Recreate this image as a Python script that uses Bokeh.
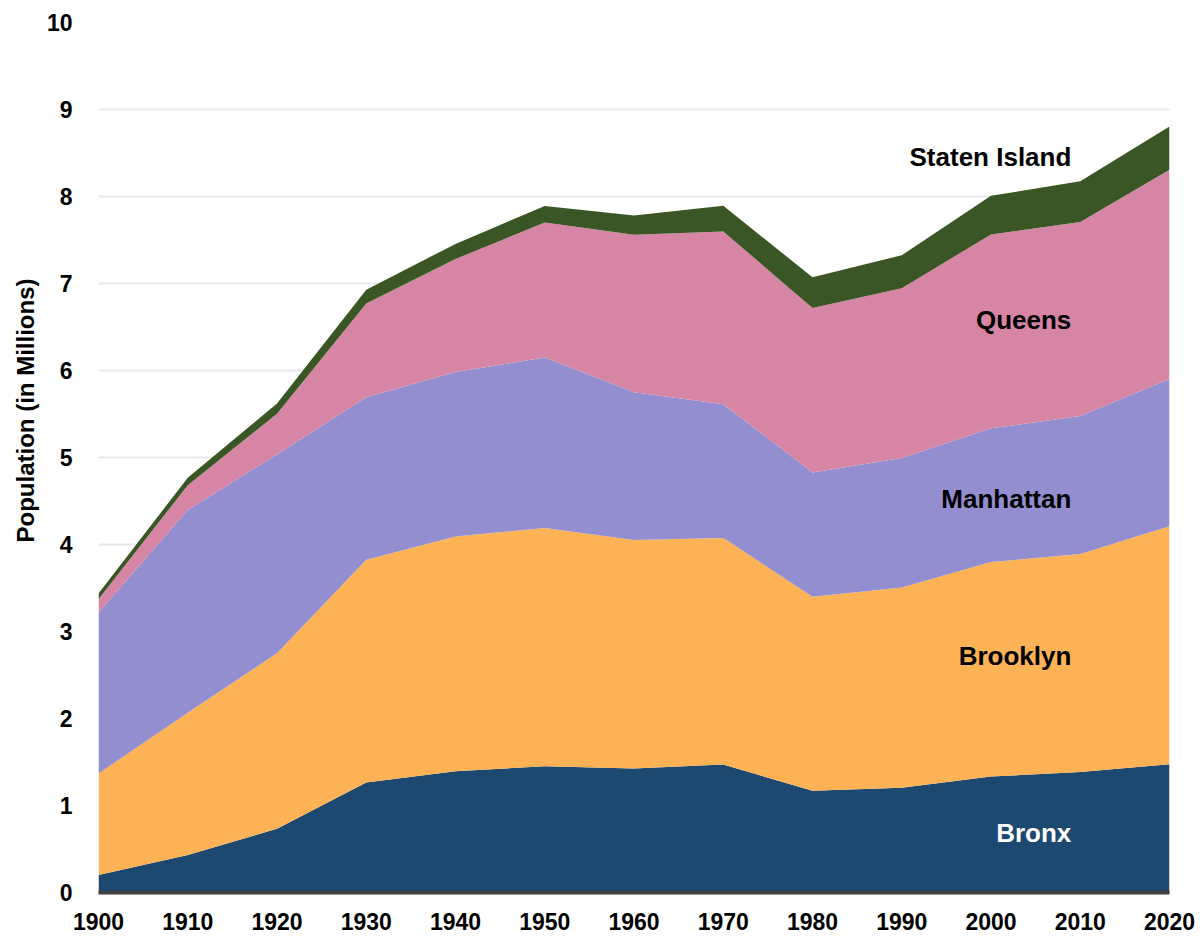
from bokeh.plotting import figure
from bokeh.models import ColumnDataSource, Label, FixedTicker, Title
from bokeh.embed import file_html
from bokeh.resources import INLINE

years = [1900, 1910, 1920, 1930, 1940, 1950, 1960, 1970, 1980, 1990, 2000, 2010, 2020]
bronx = [0.201, 0.431, 0.732, 1.265, 1.395, 1.451, 1.425, 1.472, 1.169, 1.204, 1.333, 1.385, 1.473]
brooklyn = [1.167, 1.634, 2.018, 2.560, 2.698, 2.738, 2.627, 2.602, 2.231, 2.301, 2.465, 2.505, 2.736]
manhattan = [1.850, 2.332, 2.284, 1.867, 1.890, 1.960, 1.698, 1.539, 1.428, 1.488, 1.537, 1.586, 1.694]
queens = [0.153, 0.284, 0.469, 1.079, 1.298, 1.551, 1.810, 1.986, 1.891, 1.952, 2.229, 2.231, 2.405]
staten_island = [0.067, 0.086, 0.117, 0.158, 0.174, 0.192, 0.222, 0.295, 0.352, 0.379, 0.444, 0.469, 0.496]

series_names = ["Bronx", "Brooklyn", "Manhattan", "Queens", "Staten Island"]
colors = ["#1d4870", "#fcb255", "#938ed0", "#d686a4", "#3a5624"]

source = ColumnDataSource(dict(
    year=years, Bronx=bronx, Brooklyn=brooklyn, Manhattan=manhattan,
    Queens=queens, **{"Staten Island": staten_island}))

FONT = "Liberation Sans"

p = figure(width=1200, height=940, output_backend="svg", toolbar_location=None,
           x_range=(1900, 2020), y_range=(0, 10),
           min_border_left=98, min_border_right=31, min_border_top=22, min_border_bottom=48)

p.varea_stack(stackers=series_names, x="year", color=colors, source=source)

p.outline_line_color = None
p.background_fill_color = "white"
p.border_fill_color = "white"

p.xgrid.grid_line_color = None
p.ygrid.grid_line_color = "#e8e8e8"
p.ygrid.grid_line_width = 2
p.ygrid.level = "underlay"

p.xaxis.ticker = FixedTicker(ticks=years)
p.yaxis.ticker = FixedTicker(ticks=list(range(0, 11)))

for ax in (p.xaxis, p.yaxis):
    ax.major_tick_line_color = None
    ax.minor_tick_line_color = None
    ax.major_label_text_font = FONT
    ax.major_label_text_font_style = "bold"
    ax.major_label_text_font_size = "23px"
    ax.major_label_text_color = "black"

p.yaxis.axis_line_color = None
p.yaxis.major_label_standoff = 20
p.xaxis.axis_line_color = "#404040"
p.xaxis.axis_line_width = 4
p.xaxis.major_label_standoff = 14

p.add_layout(Title(text="Population (in Millions)", align="right", offset=256,
                   text_font=FONT, text_font_style="bold", text_font_size="24px",
                   text_color="black"), "left")

labels = [
    ("Staten Island", 8.45, "black"),
    ("Queens", 6.58, "black"),
    ("Manhattan", 4.52, "black"),
    ("Brooklyn", 2.72, "black"),
    ("Bronx", 0.68, "white"),
]
for txt, yv, col in labels:
    p.add_layout(Label(x=2009.0, y=yv, text=txt, text_align="right", text_baseline="middle",
                       text_font=FONT, text_font_style="bold", text_font_size="26px",
                       text_color=col))

open("out.html", "w").write(file_html(p, INLINE))
